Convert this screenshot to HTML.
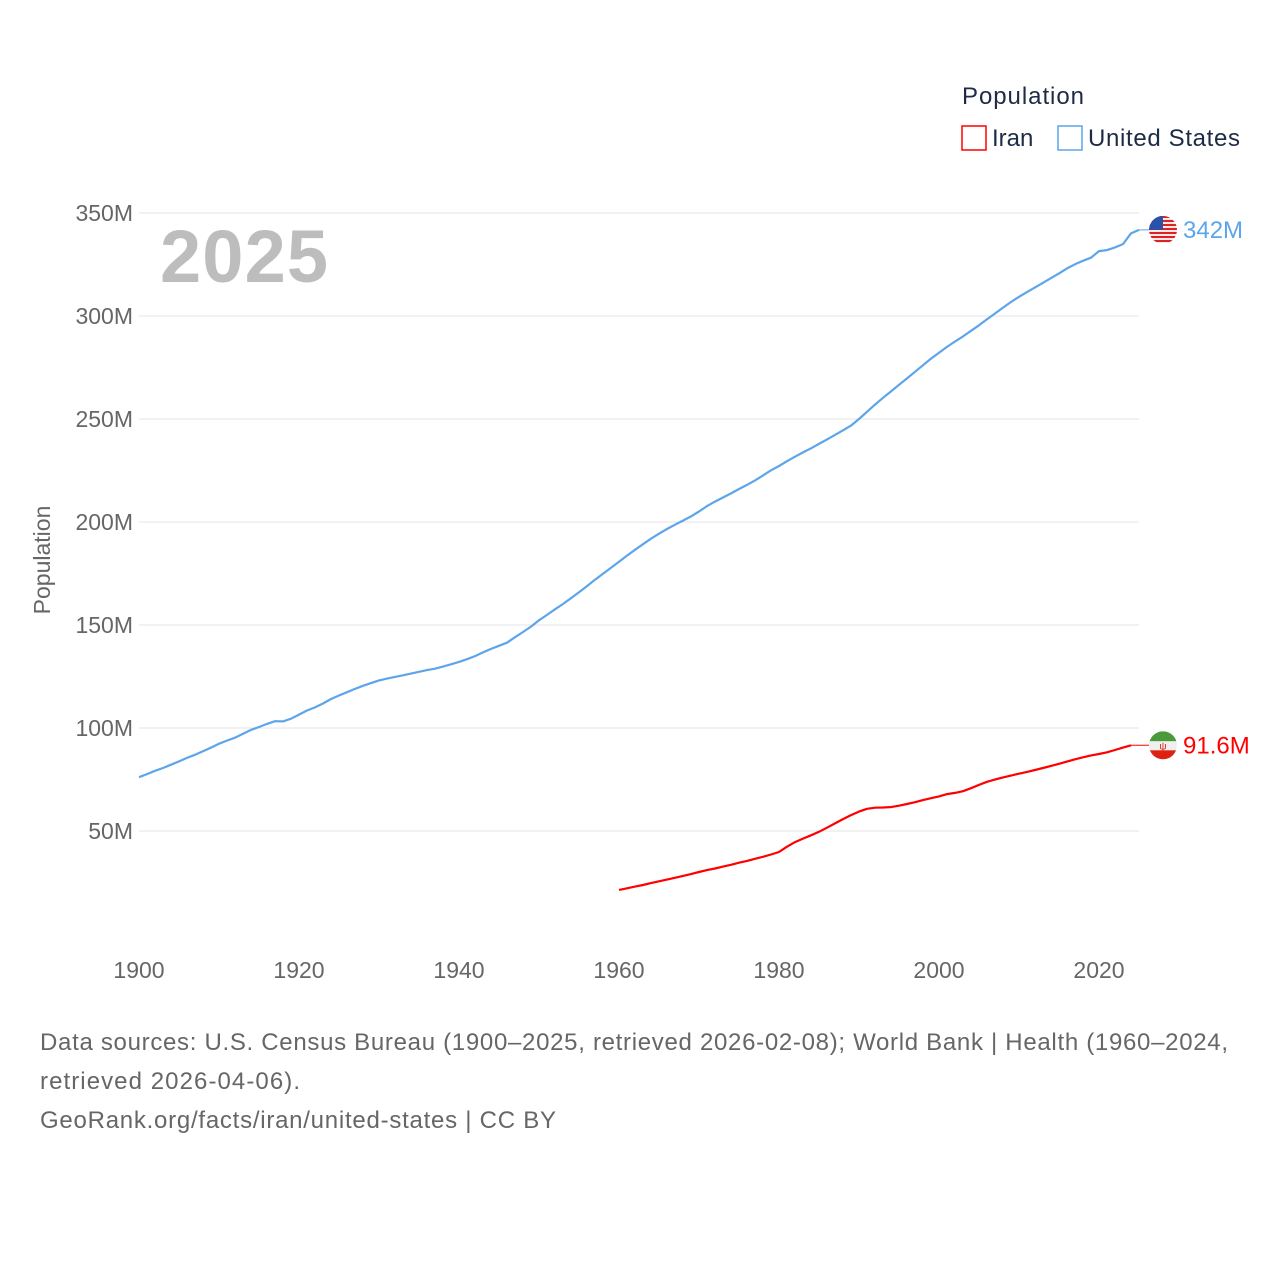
<!DOCTYPE html>
<html><head><meta charset="utf-8"><style>
body{margin:0;background:#fff;font-family:"Liberation Sans",sans-serif}
svg text{font-family:"Liberation Sans",sans-serif}
</style></head><body>
<svg id="c" width="1280" height="1280" xmlns="http://www.w3.org/2000/svg">
<rect width="1280" height="1280" fill="#fff"/>
<g id="grid"></g>
<text x="160" y="282" font-size="74" font-weight="bold" fill="#bdbdbd" textLength="168">2025</text>
<text transform="translate(50,560) rotate(-90)" text-anchor="middle" font-size="23" fill="#666">Population</text>
<g id="marks"></g>
<text x="962" y="104" font-size="24" fill="#1d2b45" textLength="122">Population</text>
<g><rect x="962" y="126" width="24" height="24" fill="none" stroke="#f00" stroke-width="1.5"/><text x="992" y="146" font-size="24" fill="#1d2b45">Iran</text></g>
<g><rect x="1058" y="126" width="24" height="24" fill="none" stroke="#5da5ea" stroke-width="1.5"/><text x="1088" y="146" font-size="24" fill="#1d2b45" textLength="152">United States</text></g>
<text x="40" y="1050" font-size="24" fill="#666" textLength="1188">Data sources: U.S. Census Bureau (1900–2025, retrieved 2026-02-08); World Bank | Health (1960–2024,</text>
<text x="40" y="1089" font-size="24" fill="#666" textLength="260">retrieved 2026-04-06).</text>
<text x="40" y="1128" font-size="24" fill="#666" textLength="516">GeoRank.org/facts/iran/united-states | CC BY</text>
</svg>
<script>
const usStart = 1900;
const usValues = [76.1,77.6,79.2,80.6,82.2,83.8,85.5,87.0,88.7,90.5,92.4,93.9,95.3,97.2,99.1,100.5,102.0,103.3,103.2,104.5,106.5,108.5,110.0,111.9,114.1,115.8,117.4,119.0,120.5,121.8,123.1,124.0,124.8,125.6,126.4,127.3,128.1,128.8,129.8,130.9,132.1,133.4,134.9,136.7,138.4,139.9,141.4,144.1,146.6,149.2,152.3,154.9,157.6,160.2,163.0,165.9,168.9,172.0,174.9,177.8,180.7,183.7,186.5,189.2,191.9,194.3,196.6,198.7,200.7,202.7,205.1,207.7,209.9,211.9,213.9,216.0,218.0,220.2,222.6,225.1,227.2,229.5,231.7,233.8,235.8,237.9,240.1,242.3,244.5,246.8,250.0,253.5,257.0,260.3,263.4,266.6,269.7,272.9,276.1,279.3,282.2,285.0,287.6,290.1,292.8,295.5,298.4,301.2,304.1,306.8,309.3,311.6,313.9,316.1,318.4,320.7,323.1,325.1,326.8,328.3,331.5,332.0,333.3,334.9,340.1,341.8];
const iranStart = 1960;
const iranValues = [21.4,22.2,23.0,23.8,24.7,25.6,26.4,27.3,28.2,29.1,30.1,31.0,31.8,32.7,33.6,34.6,35.5,36.5,37.5,38.6,39.8,42.4,44.6,46.3,47.9,49.6,51.6,53.7,55.8,57.7,59.4,60.8,61.3,61.4,61.6,62.3,63.1,64.0,65.0,65.9,66.8,67.9,68.5,69.3,70.8,72.4,73.9,75.0,76.0,76.9,77.8,78.7,79.6,80.6,81.6,82.6,83.7,84.8,85.8,86.7,87.4,88.2,89.3,90.5,91.6];
const xTicks = [1900,1920,1940,1960,1980,2000,2020];
const yTicks = [50,100,150,200,250,300,350];
const yTickLabels = ["50M","100M","150M","200M","250M","300M","350M"];
const endLabels = ["342M","91.6M"];

const NS="http://www.w3.org/2000/svg";
const X = y => 139 + (y-1900)*8;
const Y = v => 934 - v*2.06;
const grid=document.getElementById('grid'), marks=document.getElementById('marks');
function mk(tag,attrs,parent){const e=document.createElementNS(NS,tag);for(const k in attrs)e.setAttribute(k,attrs[k]);parent.appendChild(e);return e;}
yTicks.forEach((t,i)=>{
  const l=mk('line',{x1:139,x2:1139,y1:Y(t),y2:Y(t),stroke:'#e6e6e6','stroke-width':1},grid);
  
  
  const tx=mk('text',{x:133,y:Y(t)+8,'text-anchor':'end','font-size':23,fill:'#666'},grid);
  tx.textContent=yTickLabels[i];
  
  
});
xTicks.forEach(t=>{
  const tx=mk('text',{x:X(t),y:978,'text-anchor':'middle','font-size':23,fill:'#666'},grid);
  tx.textContent=t;
  
  
});
function series(start,vals,color,name,label,flagX){
  const d=vals.map((v,i)=>(i?'L':'M')+X(start+i).toFixed(1)+','+Y(v).toFixed(1)).join(' ');
  const p=mk('path',{d,fill:'none',stroke:color,'stroke-width':2.2,'stroke-linejoin':'round'},marks);
  
  
  const lx=X(start+vals.length-1), ly=Y(vals[vals.length-1]);
  const c=mk('line',{x1:lx,y1:ly,x2:flagX-14,y2:ly,stroke:color,'stroke-width':1},marks);
  
  
  const g=mk('g',{},marks);
  
  
  const cid='clip-'+name;
  const cp=mk('clipPath',{id:cid},g);mk('circle',{cx:flagX,cy:ly,r:14},cp);
  const fg=mk('g',{'clip-path':'url(#'+cid+')'},g);
  if(name==='us'){
    mk('rect',{x:flagX-14,y:ly-14,width:28,height:28,fill:'#fff'},fg);
    for(let i=0;i<7;i++)mk('rect',{x:flagX-14,y:ly-14+i*4,width:28,height:2.2,fill:'#d22'},fg);
    mk('rect',{x:flagX-14,y:ly-14,width:14,height:14,fill:'#2a52a8'},fg);
  }else{
    mk('rect',{x:flagX-14,y:ly-14,width:28,height:10,fill:'#4a9a3a'},fg);
    mk('rect',{x:flagX-14,y:ly-4,width:28,height:9,fill:'#f0f0f0'},fg);
    mk('rect',{x:flagX-14,y:ly+5,width:28,height:10,fill:'#d21'},fg);
    const e=mk('text',{x:flagX,y:ly+4,'text-anchor':'middle','font-size':10,fill:'#d21'},fg);e.textContent='ψ';
  }
  const t=mk('text',{x:flagX+20,y:ly+8,'font-size':24,fill:color},marks);
  t.textContent=label;
  
  
}
series(usStart,usValues,'#5da5ea','us',endLabels[0],1163);
series(iranStart,iranValues,'#f00','iran',endLabels[1],1163);
</script>
</body></html>
